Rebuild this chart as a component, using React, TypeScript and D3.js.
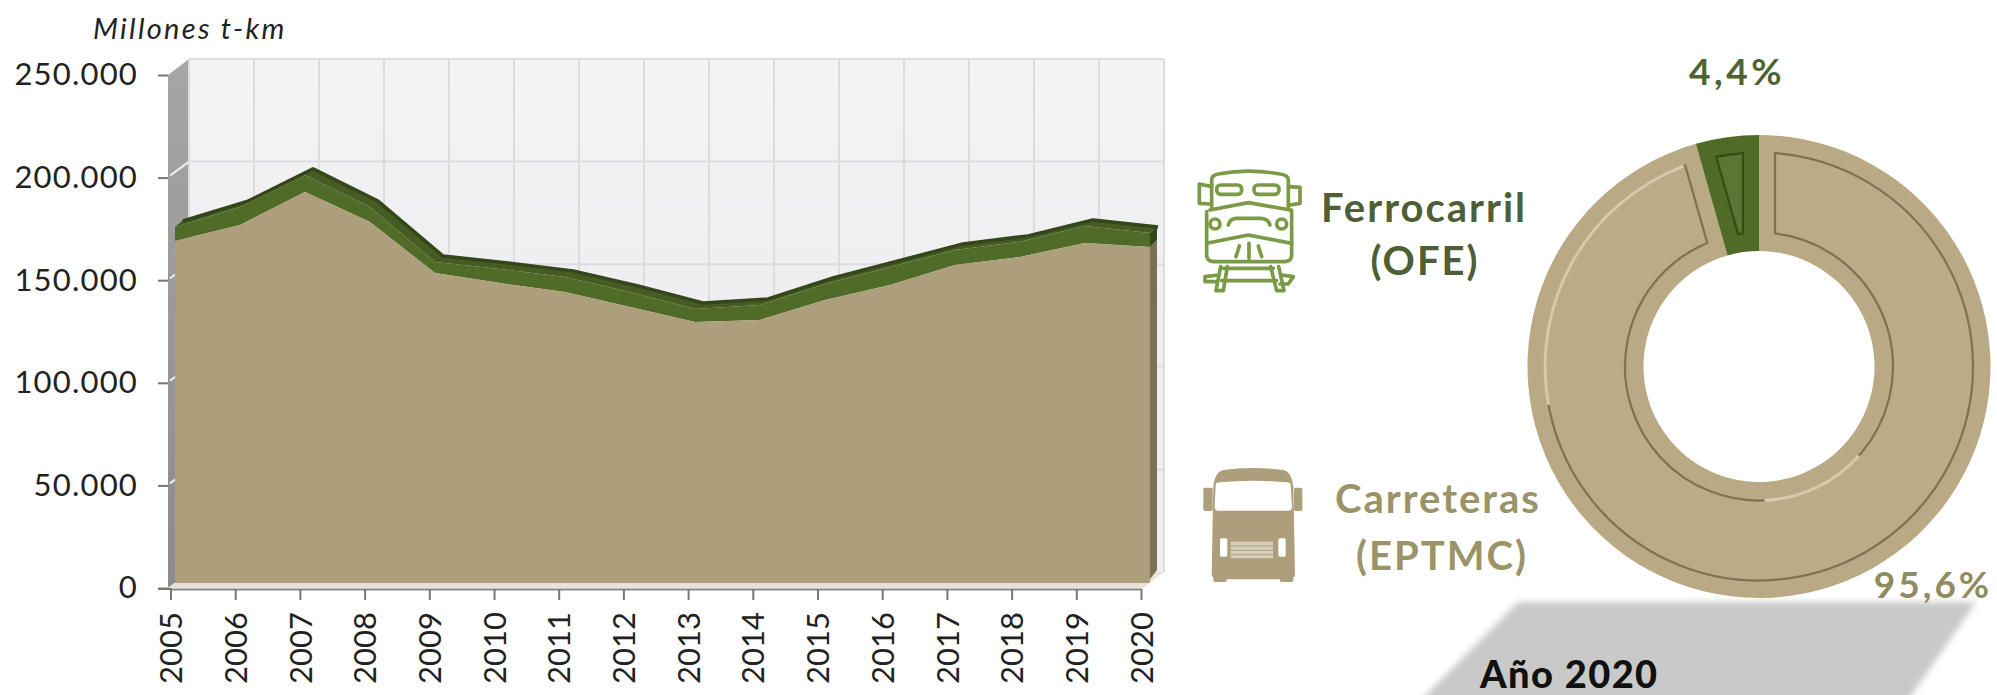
import React, { useEffect, useRef } from "react";
import * as d3 from "d3";

const years = ["2005", "2006", "2007", "2008", "2009", "2010", "2011", "2012", "2013", "2014", "2015", "2016", "2017", "2018", "2019", "2020"];
// thousands of millions t-km
const carreteras = [166.0, 173.8, 189.8, 175.2, 150.5, 145.6, 141.3, 134.0, 126.7, 127.7, 137.4, 144.7, 154.4, 158.3, 165.0, 163.1];
const ferrocarril = [6.8, 8.7, 8.3, 7.3, 5.3, 6.8, 7.3, 7.3, 6.3, 7.3, 7.8, 8.7, 7.3, 7.3, 8.3, 6.8];
const yTicks = [0, 50000, 100000, 150000, 200000, 250000];
const shareLabels = ["Carreteras", "Ferrocarril"];
const shares = [95.6, 4.4];

const TAN = "#ae9f7c";
const TAN_SIDE = "#7a6f57";
const GREEN = "#4f6b27";
const GREEN_TOP = "#465c22";
const GREEN_EDGE = "#34461a";
const DONUT = "#b9a985";
const FONT = "Lato, sans-serif";

const esLocale = d3.formatLocale({ decimal: ",", thousands: ".", grouping: [3], currency: ["", ""] });

const App: React.FC = () => {
  const svgRef = useRef<SVGSVGElement | null>(null);

  useEffect(() => {
    const svg = d3.select(svgRef.current);
    svg.selectAll("*").remove();

    const defs = svg.append("defs");
    const wallGrad = defs.append("linearGradient").attr("id", "wall").attr("x2", 0).attr("y2", 1);
    wallGrad.append("stop").attr("offset", 0).attr("stop-color", "#f4f4f5");
    wallGrad.append("stop").attr("offset", 0.5).attr("stop-color", "#eeeef0");
    const sideGrad = defs.append("linearGradient").attr("id", "side").attr("x2", 0).attr("y2", 1);
    sideGrad.append("stop").attr("offset", 0).attr("stop-color", "#a6a6a6");
    sideGrad.append("stop").attr("offset", 1).attr("stop-color", "#8b8b90");
    defs.append("filter").attr("id", "soft").attr("x", "-10%").attr("y", "-10%").attr("width", "120%").attr("height", "120%")
      .append("feGaussianBlur").attr("stdDeviation", 3);
    defs.append("filter").attr("id", "slight").attr("x", "-5%").attr("y", "-5%").attr("width", "110%").attr("height", "110%")
      .append("feGaussianBlur").attr("stdDeviation", 0.7);

    // scales: the 3D box has a front plane (axis), the area plane and a back wall
    const tickX = d3.scalePoint().domain(years).range([170.5, 1141]);
    const axisY = d3.scaleLinear().domain([0, 250000]).range([588, 75]);
    const backX = d3.scalePoint().domain(years).range([189, 1164]);
    const backY = d3.scaleLinear().domain([0, 250000]).range([572, 59]);
    const x = d3.scalePoint().domain(years).range([175, 1150]);
    const y = d3.scaleLinear().domain([0, 250000]).range([583, 68]);
    const depth = { dx: 8, dy: -7 };

    const line = d3.line();

    // left wall
    svg.append("path")
      .attr("d", line([[168, 75], [189, 59], [189, 572], [168, 588]]))
      .attr("fill", "url(#side)");
    // back wall
    svg.append("rect")
      .attr("x", backX("2005")!).attr("y", backY(250000))
      .attr("width", backX("2020")! - backX("2005")!)
      .attr("height", backY(0) - backY(250000))
      .attr("fill", "url(#wall)");
    // floor
    svg.append("path")
      .attr("d", line([[168, 588], [189, 572], [1164, 572], [1143, 588]]))
      .attr("fill", "#e9e2d8");

    // grid
    const grid = svg.append("g").attr("stroke", "#dcdce0").attr("stroke-width", 2).attr("fill", "none");
    grid.selectAll("line.v").data(years).join("line").attr("class", "v")
      .attr("x1", (d) => backX(d)!).attr("x2", (d) => backX(d)!)
      .attr("y1", backY(250000)).attr("y2", backY(0));
    grid.selectAll("line.h").data(yTicks.slice(1)).join("line").attr("class", "h")
      .attr("x1", backX("2005")!).attr("x2", backX("2020")!)
      .attr("y1", (d) => backY(d)).attr("y2", (d) => backY(d));
    svg.append("g").attr("stroke", "#eeeeee").attr("stroke-width", 2)
      .selectAll("line").data(yTicks.slice(1, -1)).join("line")
      .attr("x1", 170).attr("x2", backX("2005")!)
      .attr("y1", (d) => axisY(d) - 2).attr("y2", (d) => backY(d));

    // stacked area
    const rows = years.map((year, i) => ({
      year,
      carreteras: carreteras[i]! * 1000,
      ferrocarril: ferrocarril[i]! * 1000,
    }));
    const stacked = d3.stack<any>().keys(["carreteras", "ferrocarril"])(rows);
    const [roadLayer, railLayer] = [stacked[0]!, stacked[1]!];
    const last = years.length - 1;
    const lastX = x(years[last]!)!;

    // right side of the extrusion
    svg.append("path")
      .attr("d", line([
        [lastX, y(roadLayer[last]![1])],
        [lastX + depth.dx - 1, y(roadLayer[last]![1]) + depth.dy],
        [lastX + depth.dx - 1, 570],
        [lastX - 3, 583],
      ]))
      .attr("fill", TAN_SIDE);
    svg.append("path")
      .attr("d", line([
        [lastX, y(railLayer[last]![1])],
        [lastX + depth.dx - 1, y(railLayer[last]![1]) + depth.dy],
        [lastX + depth.dx - 1, y(roadLayer[last]![1]) + depth.dy],
        [lastX, y(roadLayer[last]![1])],
      ]))
      .attr("fill", "#33451a");

    // top face of the extrusion
    const topFace = d3.area<any>()
      .x0((d) => x(d.data.year)!)
      .x1((d) => x(d.data.year)! + depth.dx)
      .y0((d) => y(d[1]))
      .y1((d) => y(d[1]) + depth.dy);
    svg.append("path").attr("d", topFace(railLayer)).attr("fill", GREEN_TOP);
    svg.append("path")
      .attr("d", d3.line<any>()
        .x((d) => x(d.data.year)! + depth.dx)
        .y((d) => y(d[1]) + depth.dy + 1)(railLayer))
      .attr("fill", "none").attr("stroke", GREEN_EDGE).attr("stroke-width", 3.5).attr("stroke-linejoin", "round");

    const front = d3.area<any>()
      .x((d) => x(d.data.year)!)
      .y0((d) => y(d[0]))
      .y1((d) => y(d[1]));
    svg.append("path").attr("d", front(railLayer)).attr("fill", GREEN);
    svg.append("path").attr("d", front(roadLayer)).attr("fill", TAN);

    // axes
    const yAxis = svg.append("g").attr("transform", "translate(168,0)")
      .call(d3.axisLeft(axisY).tickValues(yTicks).tickSize(10).tickPadding(20).tickFormat((d) => esLocale.format(",")(d as number)));
    yAxis.select(".domain").remove();
    yAxis.selectAll(".tick line").attr("stroke", "#777").attr("stroke-width", 2);
    yAxis.selectAll("text")
      .attr("font-family", FONT).attr("font-size", 31).attr("letter-spacing", 1.2).attr("fill", "#222");

    const xAxis = svg.append("g").attr("transform", "translate(0,589)")
      .call(d3.axisBottom(tickX).tickSize(11).tickSizeOuter(0));
    xAxis.select(".domain").attr("stroke", "#888").attr("stroke-width", 2);
    xAxis.selectAll(".tick line").attr("stroke", "#777").attr("stroke-width", 2);
    xAxis.selectAll("text")
      .attr("font-family", FONT).attr("font-size", 31).attr("fill", "#222")
      .attr("transform", "rotate(-90)")
      .attr("text-anchor", "end")
      .attr("x", -23).attr("y", 0).attr("dy", "0.36em");
    svg.append("line").attr("x1", 158).attr("x2", 172).attr("y1", 589).attr("y2", 589).attr("stroke", "#777").attr("stroke-width", 2);

    svg.append("text").attr("x", 93).attr("y", 39).text("Millones t-km")
      .attr("font-family", FONT).attr("font-style", "italic").attr("font-size", 29).attr("letter-spacing", 2.3).attr("fill", "#222");

    // shadow plate under the donut
    svg.append("path")
      .attr("d", line([[1518, 602], [1976, 602], [1905, 705], [1416, 705]]))
      .attr("fill", "#c9c9c9").attr("filter", "url(#soft)");

    // donut
    const pie = d3.pie<number>().sort(null).value((d) => d);
    const slices = pie(shares);
    const center = svg.append("g").attr("transform", "translate(1759,366.5)");
    const ring = d3.arc<any>().innerRadius(115.5).outerRadius(231.5);
    const bevel = d3.arc<any>().innerRadius(134).outerRadius(214).padAngle(0.15).padRadius(214);
    const colors = [DONUT, GREEN];
    const bevelStroke = ["#6f6446", "#2f4210"];

    center.selectAll("path.ring").data(slices).join("path").attr("class", "ring")
      .attr("d", ring).attr("fill", (_, i) => colors[i]!);
    center.selectAll("path.bevel").data(slices).join("path").attr("class", "bevel")
      .attr("d", bevel).attr("fill", (_, i) => (i === 0 ? "#bbab87" : "#5b7432"))
      .attr("stroke", (_, i) => bevelStroke[i]!).attr("stroke-width", 2.2).attr("stroke-opacity", 0.8)
      .attr("filter", "url(#slight)");

    // light edges of the bevel
    const light = d3.arc<any>();
    center.append("path")
      .attr("d", light({ innerRadius: 212.5, outerRadius: 215.5, startAngle: -1.75, endAngle: -0.36 }))
      .attr("fill", "#d9cba8").attr("filter", "url(#slight)");
    center.append("path")
      .attr("d", light({ innerRadius: 132.5, outerRadius: 135.5, startAngle: 2.3, endAngle: 3.1 }))
      .attr("fill", "#d9cba8").attr("filter", "url(#slight)");

    // share labels
    svg.append("text").attr("x", 1737).attr("y", 85).attr("text-anchor", "middle")
      .text(`${esLocale.format(",.1f")(shares[1]!)}%`)
      .attr("font-family", FONT).attr("font-size", 37).attr("font-weight", 700).attr("letter-spacing", 3.5).attr("fill", "#4f6232");
    svg.append("text").attr("x", 1933).attr("y", 598).attr("text-anchor", "middle")
      .text(`${esLocale.format(",.1f")(shares[0]!)}%`)
      .attr("font-family", FONT).attr("font-size", 37).attr("font-weight", 700).attr("letter-spacing", 3).attr("fill", "#8f8c60");

    // legend text
    const legendText = (label: string, cx: number, baseline: number, fill: string) =>
      svg.append("text").attr("x", cx).attr("y", baseline).attr("text-anchor", "middle").text(label)
        .attr("font-family", FONT).attr("font-size", 40).attr("font-weight", 700)
        .attr("letter-spacing", 2).attr("fill", fill);
    legendText(shareLabels[1]!, 1424, 222, "#4e5f35");
    legendText("(OFE)", 1425, 275, "#4e5f35");
    legendText(shareLabels[0]!, 1438, 513, "#9a9468");
    legendText("(EPTMC)", 1442, 570, "#9a9468");

    svg.append("text").attr("x", 1480).attr("y", 688).text("Año 2020")
      .attr("font-family", FONT).attr("font-size", 38).attr("font-weight", 900).attr("letter-spacing", 1.4).attr("fill", "#111");

    // train icon, traced in 3x crop units
    const train = svg.append("g").attr("transform", "translate(1180,160) scale(0.3333)")
      .attr("fill", "none").attr("stroke", "#7a9a45").attr("stroke-width", 11).attr("stroke-linejoin", "round").attr("stroke-linecap", "round");
    [
      "M95 145 L95 60 Q95 45 115 42 Q205 25 300 42 Q325 45 325 60 L325 145",
      "M90 150 L205 128 L330 150",
      "M80 155 L80 285 Q80 303 100 305 L315 305 Q335 303 335 285 L335 150",
      "M145 195 Q150 175 170 175 L240 175 Q265 175 270 195",
      "M80 250 L205 225 L335 250",
      "M178 258 L168 290 M207 250 L207 295 M235 258 L245 290",
      "M122 320 L108 392 L130 392 L142 320",
      "M272 320 L290 392 L312 392 L296 320",
      "M130 325 L280 325 M125 362 L290 362",
      "M115 345 L75 350 L75 365 L110 365",
      "M305 345 L340 350 L325 372 L300 372",
      "M95 80 L58 72 L58 130 L90 132",
      "M330 80 L360 82 L360 130 L330 135",
    ].forEach((d) => train.append("path").attr("d", d));
    train.append("rect").attr("x", 110).attr("y", 75).attr("width", 75).attr("height", 28).attr("rx", 12);
    train.append("rect").attr("x", 222).attr("y", 75).attr("width", 75).attr("height", 28).attr("rx", 12);
    train.append("circle").attr("cx", 105).attr("cy", 192).attr("r", 15);
    train.append("circle").attr("cx", 305).attr("cy", 192).attr("r", 15);

    // truck icon, traced in 3x crop units
    const truck = svg.append("g").attr("transform", "translate(1180,450) scale(0.3333)").attr("fill", TAN);
    truck.append("path").attr("d", "M100 110 Q105 65 130 60 Q215 48 310 60 Q335 65 340 110 L345 370 Q345 385 330 388 L110 388 Q95 385 95 370 Z");
    truck.append("path").attr("d", "M107 105 Q107 98 118 97 Q215 88 322 97 Q332 98 332 105 L336 170 Q336 182 325 182 L115 182 Q104 182 104 170 Z").attr("fill", "#fff");
    truck.append("rect").attr("x", 70).attr("y", 113).attr("width", 28).attr("height", 70).attr("rx", 5);
    truck.append("rect").attr("x", 342).attr("y", 113).attr("width", 25).attr("height", 70).attr("rx", 5);
    truck.append("rect").attr("x", 100).attr("y", 380).attr("width", 40).attr("height", 16).attr("rx", 5);
    truck.append("rect").attr("x", 300).attr("y", 380).attr("width", 40).attr("height", 16).attr("rx", 5);
    truck.append("rect").attr("x", 120).attr("y", 265).attr("width", 22).attr("height", 55).attr("rx", 5).attr("fill", "#fff");
    truck.append("rect").attr("x", 295).attr("y", 265).attr("width", 22).attr("height", 55).attr("rx", 5).attr("fill", "#fff");
    truck.append("rect").attr("x", 152).attr("y", 275).attr("width", 127).attr("height", 50).attr("fill", "#d8cfba");
    truck.append("g").attr("stroke", TAN).attr("stroke-width", 3)
      .selectAll("line").data([288, 301, 314]).join("line")
      .attr("x1", 152).attr("x2", 279).attr("y1", (d) => d).attr("y2", (d) => d);
  }, []);

  return (
    <svg
      ref={svgRef}
      width={1997}
      height={695}
      style={{ position: "absolute", left: 0, top: 0, background: "#fff", display: "block" }}
    />
  );
};

export default App;
